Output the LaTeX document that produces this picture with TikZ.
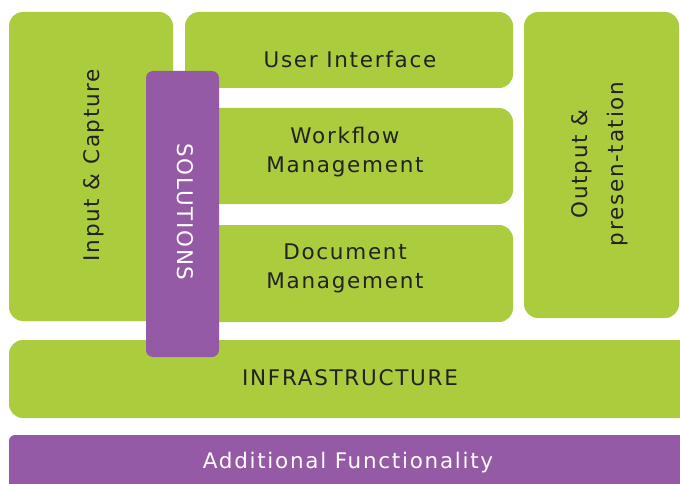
\documentclass[tikz,border=0pt]{standalone}
\usepackage{fontspec}
\setmainfont{DejaVu Sans}[LetterSpace=8]
\definecolor{lime}{HTML}{ABCC3D}
\definecolor{plum}{HTML}{955AA5}
\definecolor{ink}{HTML}{222222}
\begin{document}
\begin{tikzpicture}[x=1pt,y=-1pt,
  box/.style={fill=lime, draw=none, rounded corners=14pt, inner sep=0pt},
  pbox/.style={fill=plum, draw=none, rounded corners=7pt, inner sep=0pt},
  lbl/.style={text=ink, font=\fontsize{21.5}{29}\selectfont, align=center, inner sep=0pt},
  wlbl/.style={text=white, font=\fontsize{21.5}{29}\selectfont, align=center, inner sep=0pt}]
\fill[white] (0,0) rectangle (680,484);
\clip (0,0) rectangle (680,484);
\useasboundingbox (0,0) rectangle (680,484);
% green boxes
\node[box, minimum width=164pt, minimum height=309pt] (ic) at (91,166.5) {};
\node[box, minimum width=328pt, minimum height=76pt] (ui) at (349,50) {};
\node[box, minimum width=328pt, minimum height=96pt] (wf) at (349,156) {};
\node[box, minimum width=328pt, minimum height=97pt] (dm) at (349,273.5) {};
\node[box, minimum width=155pt, minimum height=306pt] (op) at (601.5,165) {};
\node[box, minimum width=690pt, minimum height=78pt] (inf) at (354,379) {};
\node[pbox, rounded corners=6pt, minimum width=690pt, minimum height=70pt] (af) at (354,470) {};
% solutions bar
\node[pbox, minimum width=73pt, minimum height=286pt] (sol) at (182.5,214) {};
% labels
\node[lbl, rotate=90] (ict) at (94,165) {Input \& Capture};
\node[lbl] (uit) at (350,59) {User Interface};
\node[lbl] (wft) at (345,152) {Workflow\\Management};
\node[lbl] (dmt) at (345,268) {Document\\Management};
\node[lbl, rotate=90, font=\fontsize{21.5}{36}\selectfont] (opt) at (600,164) {Output \&\\presen-tation};
\node[lbl] (inft) at (350,378) {INFRASTRUCTURE};
\node[wlbl] (aft) at (348,463) {Additional Functionality};
\node[wlbl, rotate=-90] (solt) at (185,212) {SOLUTIONS};
\end{tikzpicture}
\end{document}
